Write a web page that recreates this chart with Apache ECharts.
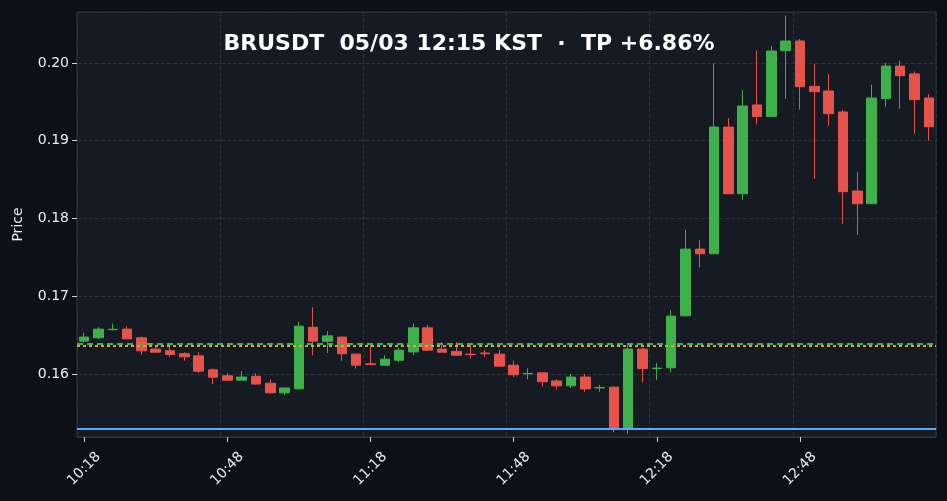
<!DOCTYPE html>
<html>
<head>
<meta charset="utf-8">
<script src="https://cdn.jsdelivr.net/npm/echarts@6/dist/echarts.min.js"></script>
<style>
html, body { margin: 0; padding: 0; background: #0d1117; }
#chart { width: 947px; height: 501px; }
</style>
</head>
<body>
<div id="chart"></div>
<script>
// 3-minute candles, 10:18 .. 13:15
const times = [];
for (let m = 10 * 60 + 18; m <= 13 * 60 + 15; m += 3) {
    times.push(Math.floor(m / 60) + ':' + String(m % 60).padStart(2, '0'));
}

// [open, close, low, high]
const ohlc = [
    [0.16422, 0.16474, 0.1640, 0.1653],
    [0.16465, 0.16577, 0.1645, 0.1660],
    [0.16570, 0.16575, 0.1656, 0.1665],
    [0.16577, 0.16452, 0.1645, 0.1661],
    [0.16465, 0.16297, 0.1625, 0.1648],
    [0.1632, 0.1628, 0.1627, 0.1634],
    [0.1630, 0.1625, 0.1622, 0.1636],
    [0.1626, 0.1622, 0.1617, 0.1628],
    [0.16233, 0.16036, 0.1601, 0.1628],
    [0.16053, 0.15959, 0.1587, 0.1607],
    [0.15976, 0.1592, 0.1592, 0.1601],
    [0.1592, 0.1596, 0.1592, 0.1604],
    [0.1597, 0.1587, 0.1586, 0.1601],
    [0.1588, 0.15757, 0.1574, 0.1593],
    [0.15757, 0.1582, 0.1573, 0.1582],
    [0.1581, 0.16615, 0.1580, 0.1667],
    [0.1660, 0.16422, 0.1624, 0.1686],
    [0.1642, 0.1649, 0.1627, 0.1655],
    [0.16474, 0.1626, 0.1617, 0.1648],
    [0.16255, 0.16113, 0.1607, 0.1626],
    [0.1613, 0.1612, 0.1612, 0.1637],
    [0.16113, 0.1619, 0.1611, 0.1624],
    [0.16177, 0.16306, 0.1615, 0.1634],
    [0.16284, 0.16593, 0.1624, 0.1665],
    [0.16593, 0.16306, 0.1630, 0.1663],
    [0.1632, 0.1628, 0.1628, 0.1641],
    [0.1629, 0.1624, 0.1624, 0.1641],
    [0.16255, 0.1625, 0.1620, 0.1638],
    [0.1627, 0.1626, 0.1622, 0.1631],
    [0.16255, 0.1610, 0.1610, 0.1631],
    [0.16113, 0.15989, 0.1596, 0.1617],
    [0.1600, 0.16006, 0.1593, 0.1607],
    [0.16014, 0.1590, 0.1584, 0.1602],
    [0.1591, 0.15847, 0.1580, 0.1593],
    [0.15847, 0.1596, 0.1582, 0.1600],
    [0.1596, 0.15808, 0.1577, 0.1600],
    [0.1582, 0.15825, 0.1577, 0.1586],
    [0.1583, 0.1530, 0.1525, 0.1584],
    [0.1530, 0.1632, 0.1523, 0.1637],
    [0.1632, 0.1607, 0.1589, 0.1633],
    [0.1607, 0.16075, 0.1592, 0.1614],
    [0.1608, 0.16744, 0.1602, 0.1682],
    [0.16748, 0.17606, 0.1674, 0.1785],
    [0.17606, 0.17546, 0.1737, 0.1772],
    [0.17546, 0.19176, 0.1754, 0.19996],
    [0.19176, 0.18318, 0.1832, 0.1929],
    [0.18318, 0.19447, 0.1824, 0.1965],
    [0.1946, 0.1931, 0.1921, 0.2016],
    [0.1931, 0.20154, 0.1931, 0.2022],
    [0.20158, 0.20283, 0.1954, 0.2061],
    [0.20283, 0.19695, 0.1940, 0.2031],
    [0.1970, 0.19631, 0.1851, 0.1999],
    [0.1964, 0.19348, 0.1919, 0.1986],
    [0.1937, 0.18344, 0.1793, 0.1940],
    [0.18353, 0.1819, 0.1779, 0.1860],
    [0.1819, 0.1955, 0.1819, 0.1972],
    [0.19541, 0.19961, 0.1944, 0.2000],
    [0.1996, 0.19837, 0.1941, 0.2003],
    [0.1986, 0.19528, 0.1909, 0.1989],
    [0.1955, 0.1918, 0.1900, 0.1960]
];

const entryLevel = 0.16383;
const avgLevel = 0.16358;
const stopLevel = 0.1530;

const chart = echarts.init(document.getElementById('chart'));
chart.setOption({
    backgroundColor: '#0d1117',
    animation: false,
    title: {
        text: 'BRUSDT  05/03 12:15 KST  ·  TP +6.86%',
        left: 464, top: 28, textAlign: 'center',
        textStyle: { color: '#ffffff', fontSize: 22, fontWeight: 'bold', fontFamily: 'DejaVu Sans' }
    },
    grid: {
        left: 77, right: 11, top: 12, bottom: 64,
        show: true, backgroundColor: '#161a22', borderColor: '#30363d', borderWidth: 1
    },
    xAxis: {
        type: 'category',
        data: times,
        boundaryGap: true,
        axisLine: { lineStyle: { color: '#30363d' } },
        axisTick: { show: true, interval: 9, alignWithLabel: true, lineStyle: { color: '#c9d1d9' } },
        axisLabel: {
            interval: 9, rotate: 45, color: '#e6edf3', fontSize: 14, fontFamily: 'DejaVu Sans',
            align: 'center', verticalAlign: 'middle', margin: 32
        },
        splitLine: { show: true, interval: 9, lineStyle: { color: '#2a2f38', type: 'dashed' } }
    },
    yAxis: {
        type: 'value',
        min: 0.15189, max: 0.20656,
        name: 'Price', nameLocation: 'middle', nameGap: 52,
        nameTextStyle: { color: '#e6edf3', fontSize: 14, fontFamily: 'DejaVu Sans' },
        axisLine: { show: false },
        axisTick: { show: true, lineStyle: { color: '#c9d1d9' } },
        axisLabel: {
            color: '#e6edf3', fontSize: 14, fontFamily: 'DejaVu Sans',
            showMinLabel: false, showMaxLabel: false,
            formatter: v => v.toFixed(2)
        },
        splitLine: { lineStyle: { color: '#2a2f38', type: 'dashed' } }
    },
    series: [{
        type: 'candlestick',
        data: ohlc,
        barWidth: '70%',
        itemStyle: {
            color: '#3fb04c', color0: '#e5534b',
            borderColor: '#3fb04c', borderColor0: '#e5534b', borderWidth: 1
        },
        markLine: {
            silent: true, symbol: 'none', label: { show: false }, precision: 6,
            data: [
                { yAxis: entryLevel, lineStyle: { color: '#3fb04c', type: [6, 4], width: 2 } },
                { yAxis: avgLevel, lineStyle: { color: '#f0a020', type: [3, 3], width: 2 } },
                { yAxis: stopLevel, lineStyle: { color: '#58a6ff', type: 'solid', width: 2 } }
            ]
        }
    }]
});
</script>
</body>
</html>
